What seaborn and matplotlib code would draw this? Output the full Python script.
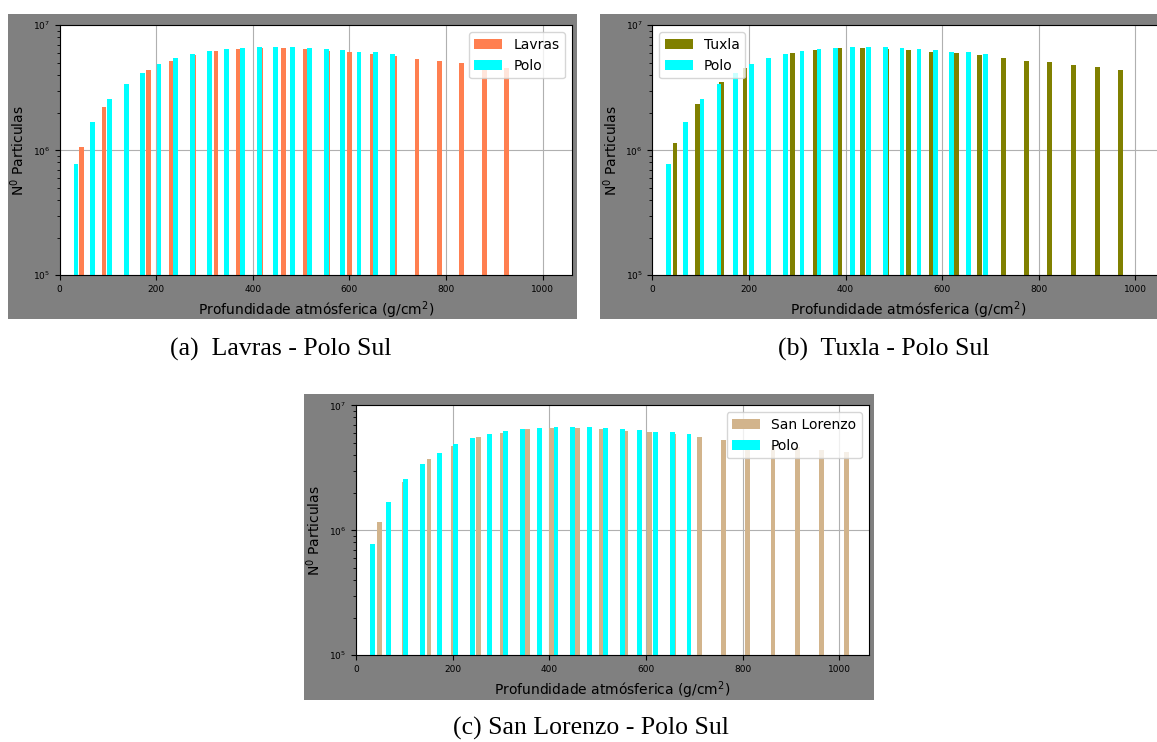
import numpy as np
import pandas as pd
import matplotlib
matplotlib.use("Agg")
import matplotlib.pyplot as plt
from matplotlib.patches import Rectangle, Patch
import seaborn as sns

# ---------------- data ----------------
polo_x = [34, 68, 103, 138, 172, 206, 241, 276, 310, 345,
          379, 414, 448, 483, 517, 552, 586, 620, 655, 689]
polo_y = [7.8e5, 1.67e6, 2.56e6, 3.41e6, 4.18e6, 4.88e6, 5.47e6, 5.89e6, 6.26e6, 6.46e6,
          6.58e6, 6.70e6, 6.70e6, 6.70e6, 6.58e6, 6.46e6, 6.34e6, 6.15e6, 6.08e6, 5.89e6]

lavras_x = [45, 92, 138, 185, 231, 277, 324, 370, 416, 463,
            509, 555, 601, 647, 694, 740, 786, 832, 879, 925]
lavras_y = [1.06e6, 2.23e6, 3.3e6, 4.39e6, 5.21e6, 5.8e6, 6.26e6, 6.46e6, 6.58e6, 6.58e6,
            6.46e6, 6.26e6, 6.08e6, 5.89e6, 5.68e6, 5.37e6, 5.21e6, 4.97e6, 4.61e6, 4.53e6]

tuxla_x = [47, 93, 144, 192, 240, 290, 337, 388, 436, 484,
           530, 578, 629, 677, 727, 775, 823, 872, 922, 970]
tuxla_y = [1.14e6, 2.35e6, 3.54e6, 4.58e6, 5.3e6, 6.0e6, 6.38e6, 6.58e6, 6.58e6, 6.46e6,
           6.38e6, 6.15e6, 6.0e6, 5.78e6, 5.47e6, 5.21e6, 5.06e6, 4.79e6, 4.61e6, 4.39e6]

slorenzo_x = [49, 100, 151, 202, 253, 303, 355, 405, 458, 507,
              558, 608, 658, 710, 760, 811, 863, 914, 964, 1015]
slorenzo_y = [1.17e6, 2.45e6, 3.72e6, 4.73e6, 5.58e6, 6.04e6, 6.47e6, 6.58e6, 6.58e6, 6.46e6,
              6.26e6, 6.08e6, 5.85e6, 5.58e6, 5.28e6, 5.05e6, 4.85e6, 4.6e6, 4.39e6, 4.25e6]

site_labels = ["Lavras", "Tuxla", "San Lorenzo"]
captions = ["(a)  Lavras - Polo Sul", "(b)  Tuxla - Polo Sul", "(c) San Lorenzo - Polo Sul"]
xlabel = "Profundidade atmósferica (g/cm$^2$)"
ylabel = "N$^0$ Particulas"

# ---------------- style ----------------
site_colors = ["#FF7F50", "#808000", "#D2B48C"]
polo_color = "#00FFFF"
bg_gray = "#808080"
BAR_W = 10.0

W, H = 1157, 742
fig = plt.figure(figsize=(W / 100, H / 100), dpi=100, facecolor="white")


def fx(px):
    return px / W


def fy(py):
    return 1 - py / H


def add_bg(x0, y0, x1, y1):
    fig.add_artist(Rectangle((fx(x0), fy(y1)), fx(x1) - fx(x0), fy(y0) - fy(y1),
                             transform=fig.transFigure, facecolor=bg_gray,
                             edgecolor="none", zorder=-5))


def make_axes(left, top, right, bottom):
    return fig.add_axes([fx(left), fy(bottom), fx(right) - fx(left), fy(top) - fy(bottom)])


def panel(ax, sx, sy, slabel, scolor, loc):
    df_site = pd.DataFrame({"x": sx, "y": sy})
    df_polo = pd.DataFrame({"x": polo_x, "y": polo_y})
    sns.barplot(data=df_site, x="x", y="y", native_scale=True, log_scale=(False, True),
                orient="x", width=BAR_W / np.min(np.diff(sorted(sx))),
                color=scolor, saturation=1, errorbar=None, linewidth=0, ax=ax)
    sns.barplot(data=df_polo, x="x", y="y", native_scale=True, log_scale=(False, True),
                orient="x", width=BAR_W / np.min(np.diff(sorted(polo_x))),
                color=polo_color, saturation=1, errorbar=None, linewidth=0, ax=ax)
    ax.set_facecolor("white")
    ax.set_yscale("log")
    ax.set_ylim(1e5, 1e7)
    ax.set_xlim(0, 1061)
    ax.set_xticks([0, 200, 400, 600, 800, 1000])
    ax.set_axisbelow(True)
    ax.grid(True, which="major", color="#b0b0b0", linewidth=0.8)
    ax.grid(False, which="minor")
    ax.tick_params(axis="both", which="both", labelsize=6.5)
    ax.set_xlabel(xlabel, fontsize=10)
    ax.set_ylabel(ylabel, fontsize=10)
    for s in ax.spines.values():
        s.set_color("black")
        s.set_linewidth(0.8)
    handles = [Patch(facecolor=scolor, label=slabel), Patch(facecolor=polo_color, label="Polo")]
    ax.legend(handles=handles, loc=loc, fontsize=10)


# backgrounds
add_bg(8, 14, 577, 319)
add_bg(600, 14, 1170, 319)
add_bg(303.5, 394, 873.5, 699.5)

ax_a = make_axes(59.5, 25.3, 572, 275.3)
ax_b = make_axes(652.3, 25.3, 1164.8, 275.3)
ax_c = make_axes(356, 405.3, 868.7, 655.3)

panel(ax_a, lavras_x, lavras_y, site_labels[0], site_colors[0], "upper right")
panel(ax_b, tuxla_x, tuxla_y, site_labels[1], site_colors[1], "upper left")
panel(ax_c, slorenzo_x, slorenzo_y, site_labels[2], site_colors[2], "upper right")

cap_kw = dict(ha="center", va="center", family=["Liberation Serif", "DejaVu Serif"], fontsize=18.5)
fig.text(fx(281), fy(349), captions[0], **cap_kw)
fig.text(fx(884), fy(349), captions[1], **cap_kw)
fig.text(fx(591), fy(728), captions[2], **cap_kw)

fig.savefig("out.png", dpi=100, facecolor="white")
